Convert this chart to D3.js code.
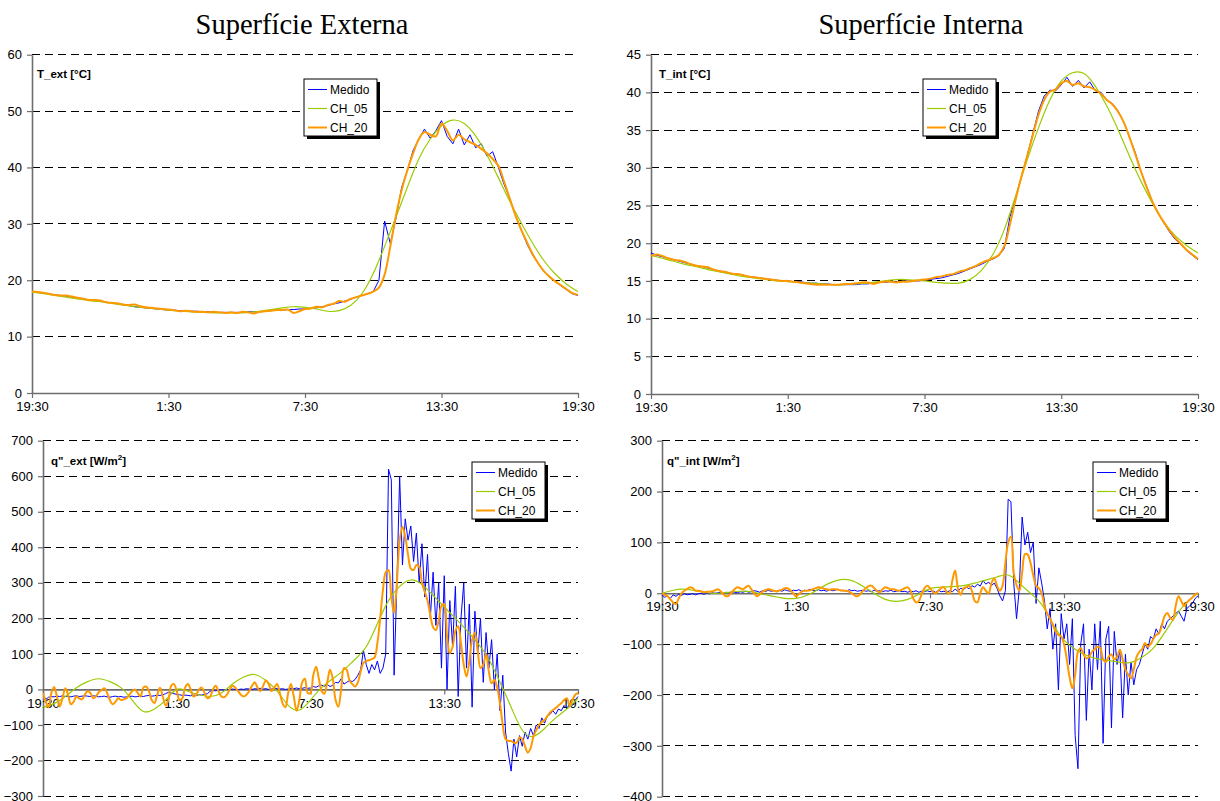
<!DOCTYPE html>
<html><head><meta charset="utf-8">
<script src="https://cdn.jsdelivr.net/npm/d3@7"></script>
<style>body{margin:0;background:#fff}svg{display:block}</style>
</head><body><svg id="c" width="1220" height="801"></svg>
<script>
// ---------- DATA ----------
const xTickLabels = ["19:30", "1:30", "7:30", "13:30", "19:30"];
const xTickHours = [0, 6, 12, 18, 24];
const seriesNames = ["Medido", "CH_05", "CH_20"];
const titles = ["Superfície Externa", "Superfície Interna"];

const tExtTicks = [0, 10, 20, 30, 40, 50, 60];
const tIntTicks = [0, 5, 10, 15, 20, 25, 30, 35, 40, 45];
const qExtTicks = [-300, -200, -100, 0, 100, 200, 300, 400, 500, 600, 700];
const qIntTicks = [-400, -300, -200, -100, 0, 100, 200, 300];

// Temperatures, 15-min steps (19:30 -> 19:30)
const tExtMedido = [
 18.0,17.9,17.7,17.6, 17.4,17.3,17.2,17.0, 16.9,16.7,16.5,16.4, 16.3,16.1,16.0,15.8,
 15.7,15.5,15.3,15.2, 15.1,15.0,14.9,14.8, 14.7,14.7,14.6,14.6, 14.5,14.5,14.4,14.4,
 14.3,14.3,14.3,14.3, 14.3,14.3,14.4,14.4, 14.4,14.5,14.6,14.7, 14.7,14.8,14.8,14.9,
 14.9,15.0,15.1,15.3, 15.5,15.8,16.0,16.3, 16.6,17.0,17.3,17.6, 18.0,20.0,30.5,26.5,
 31.0,36.5,39.5,43.0, 45.0,46.8,45.2,46.5, 48.3,45.5,44.2,46.8, 44.0,45.8,43.5,44.2,
 42.0,42.8,40.0,37.0, 34.5,31.5,29.0,26.5, 24.5,23.0,21.5,20.5, 19.8,19.0,18.3,17.6, 17.3];
const tExtCH20 = [
 18.0,17.9,17.8,17.6, 17.4,17.3,17.3,17.1, 16.9,16.7,16.5,16.5, 16.4,16.1,16.0,15.9,
 15.7,15.6,15.7,15.4, 15.2,15.1,15.0,14.9, 14.8,14.7,14.5,14.6, 14.5,14.4,14.4,14.3,
 14.4,14.3,14.2,14.3, 14.2,14.4,14.3,14.1, 14.4,14.5,14.6,14.7, 14.7,14.8,14.2,14.5,
 14.9,15.0,15.3,15.2, 15.6,15.8,16.3,16.2, 16.7,17.0,17.3,17.6, 18.0,18.7,21.0,26.0,
 31.5,36.0,39.5,42.5, 45.0,46.3,45.8,45.5, 47.8,46.5,44.8,45.8, 45.0,44.5,44.0,43.3,
 42.5,41.5,40.3,37.5, 34.5,31.5,29.0,26.8, 24.7,23.0,21.6,20.6, 19.8,19.1,18.4,17.7, 17.4];
// 30-min steps
const tExtCH05 = [
 17.9,17.6,17.3,17.0,16.7,16.4,16.2,15.9,15.6,15.3,15.1,14.9,14.7,14.5,14.4,14.3,
 14.2,14.2,14.2,14.3,14.5,14.8,15.1,15.3,15.2,14.9,14.5,14.6,15.5,17.6,21.2,26.0,
 31.2,36.5,41.5,45.0,47.4,48.4,47.8,45.6,42.2,38.2,34.0,30.2,26.6,23.5,21.1,19.3,18.0];

const tIntMedido = [
 18.7,18.4,18.2,18.0, 17.8,17.6,17.4,17.2, 17.0,16.9,16.7,16.5, 16.3,16.2,16.0,15.9,
 15.8,15.6,15.5,15.4, 15.3,15.2,15.1,15.0, 15.0,14.9,14.9,14.8, 14.7,14.7,14.6,14.6,
 14.5,14.5,14.5,14.5, 14.5,14.6,14.6,14.7, 14.8,14.8,14.9,14.9, 14.9,15.0,15.0,15.0,
 15.1,15.2,15.3,15.4, 15.6,15.8,16.0,16.3, 16.6,16.9,17.2,17.6, 17.9,18.3,19.3,23.5,
 26.0,28.8,31.5,34.5, 37.5,39.5,40.3,40.2, 41.0,42.0,40.8,41.6, 40.6,41.4,40.2,40.0,
 39.0,38.5,37.5,36.0, 34.0,32.0,29.5,27.5, 25.5,24.0,22.7,21.5, 20.5,19.8,19.0,18.4, 17.8];
const tIntCH20 = [
 18.3,18.5,18.3,18.0, 17.8,17.7,17.5,17.2, 17.0,16.9,16.8,16.5, 16.3,16.2,16.0,15.9,
 15.8,15.6,15.5,15.4, 15.3,15.2,15.1,15.0, 15.0,14.9,14.8,14.7, 14.6,14.5,14.5,14.5,
 14.5,14.5,14.6,14.6, 14.7,14.8,14.8,14.6, 14.8,14.9,14.9,14.8, 14.9,14.9,15.0,15.1,
 15.2,15.3,15.5,15.6, 15.8,15.9,16.2,16.4, 16.7,17.0,17.4,17.7, 18.0,18.4,19.6,22.5,
 25.8,28.8,31.5,34.3, 37.0,39.0,40.1,40.4, 41.2,41.5,41.0,41.2, 40.8,40.7,40.3,39.8,
 39.0,38.4,37.4,36.0, 34.0,31.8,29.5,27.4, 25.5,24.0,22.8,21.7, 20.7,19.9,19.1,18.5, 17.9];
const tIntCH05 = [
 18.4,18.0,17.6,17.2,16.9,16.5,16.2,15.9,15.6,15.4,15.2,15.0,14.9,14.8,14.7,14.6,
 14.5,14.5,14.6,14.7,14.9,15.1,15.2,15.1,15.0,14.8,14.7,14.7,15.2,16.4,18.5,21.8,
 26.3,31.0,35.3,39.0,41.5,42.6,42.5,40.8,38.2,35.0,31.5,28.2,25.3,22.8,21.0,19.7,18.7];

// Heat fluxes, 7.5-min steps
const qExtMedido = [
 -15,-28,-22,-20,-21,-19,-20,-18,  -20,-19,-21,-19,-18,-20,-19,-18,
 -19,-20,-18,-19,-21,-20,-19,-21,  -22,-20,-19,-21,-20,-22,-21,-20,
 -19,-21,-20,-19,-20,-18,-17,-19,  -18,-16,-17,-15,-12,-8,-10,-12,
 -14,-15,-17,-16,-17,-18,-16,-17,  -15,-16,-14,-12,-5,-3,-4,-2,
 -1,-2,0,-1,1,0,-1,1,  0,2,1,0,2,1,3,1,
 2,0,1,3,2,1,2,0,  1,3,2,4,2,3,5,3,
 4,8,6,10,12,9,14,8,  12,20,18,30,15,20,25,22,
 28,40,55,110,70,45,70,55,  80,45,60,100,620,590,40,300,
 600,350,480,420,460,360,440,300,  410,260,380,200,330,180,300,60,
 320,0,250,120,290,-20,200,300,  60,240,-50,220,100,200,20,160,
 60,140,0,100,-60,40,-120,-180,  -230,-140,-190,-130,-160,-120,-140,-110,
 -130,-100,-110,-80,-95,-75,-70,-60,  -70,-55,-60,-45,-55,-40,-45,-30, -20];
const qExtCH20 = [
 -10,-35,-50,-10,7,-20,-48,-25,  3,-15,-42,-35,-20,-25,-28,-15,
 -5,-10,-25,-20,-8,-2,3,-10,  -30,-42,-35,-25,-30,-28,-25,-15,
 -5,0,-10,-20,5,8,-5,-30,  -38,-15,5,-20,-45,-30,10,15,
 -5,-30,-25,5,15,0,-20,-15,  0,5,-10,-25,-20,0,10,-5,
 -20,-22,-15,0,10,5,-5,-15,  -20,-15,-5,10,20,5,-5,10,
 25,15,-5,5,15,-10,-40,-50,  -10,15,-20,-60,-30,20,30,-10,
 -10,40,64,30,-5,-12,20,55,  30,-30,-49,0,60,55,25,15,
 8,20,50,75,80,82,85,90,  130,200,280,330,336,260,215,300,
 420,458,430,380,340,336,350,345,  300,275,250,210,175,167,195,235,
 240,150,102,120,165,178,130,70,  36,80,140,159,110,60,70,100,
 50,17,27,5,-40,-100,-140,-145,  -145,-150,-150,-135,-140,-160,-178,-165,
 -133,-115,-100,-92,-86,-75,-65,-58,  -52,-45,-39,-30,-25,-45,-30,-15, -10];
const qExtCH05 = [
 -50,-40,-20,5,22,30,22,5,-30,-62,-55,-30,0,-5,-15,-20,
 -10,15,35,42,25,-5,-45,-58,-30,5,30,55,85,120,185,250,
 290,308,295,265,232,200,167,130,85,20,-50,-115,-132,-110,-80,-55,-25];

const qIntMedido = [
 -3,-8,-5,-10,-3,-6,-2,-4,  -1,-3,-2,-1,-3,-1,0,-2,
 0,-1,1,0,1,2,0,2,  1,3,2,1,3,2,4,2,
 3,5,4,2,5,3,6,4,  5,3,6,4,7,5,4,6,
 5,7,4,6,5,8,6,5,  7,5,6,4,7,5,6,8,
 5,6,4,7,5,6,4,5,  6,4,5,3,6,4,5,3,
 5,4,6,3,4,5,3,4,  2,4,3,5,2,4,3,5,
 3,5,2,6,3,4,2,5,  3,8,4,10,7,12,9,15,
 12,18,14,25,18,22,15,20,  10,-5,-15,5,185,180,20,-50,
 10,150,95,120,80,100,-20,50,  20,-15,-70,-30,-110,-60,-190,-40,
 -90,-60,-140,-50,-280,-345,-100,-60,  -250,-110,-190,-60,-150,-55,-295,-90,
 -65,-265,-75,-140,-110,-245,-120,-200,  -135,-180,-150,-140,-120,-100,-110,-85,
 -90,-70,-80,-60,-70,-55,-50,-45,  -40,-35,-45,-55,-30,-25,-20,-10, -5];
const qIntCH20 = [
 0,-3,-6,-12,-18,-21,-10,0,  5,8,12,10,5,5,4,2,
 3,3,4,6,8,4,-2,-6,  -4,2,8,12,10,8,12,15,
 8,0,-6,-2,3,6,8,7,  5,4,5,7,10,10,6,0,
 -6,-2,3,5,5,6,8,10,  12,11,9,8,7,8,8,7,
 6,5,5,3,0,-4,-6,-2,  5,10,14,15,10,5,2,8,
 12,10,8,8,6,5,7,10,  12,5,-10,-18,-15,-2,10,15,
 10,3,0,5,10,12,2,0,  25,45,10,-3,10,12,15,5,
 -15,-18,0,12,5,0,20,29,  15,5,15,60,100,111,40,16,
 5,40,77,76,60,35,15,10,  0,-25,-40,-50,-62,-75,-82,-85,
 -100,-130,-165,-187,-160,-115,-108,-120,  -128,-125,-115,-110,-105,-108,-130,-135,
 -125,-120,-130,-125,-111,-130,-150,-160,  -167,-150,-125,-115,-110,-98,-105,-100,
 -90,-82,-79,-65,-45,-39,-48,-52,  -25,-6,-15,-25,-18,-13,-8,-2, 0];
const qIntCH05 = [
 0,6,8,5,1,0,2,4,3,-2,-6,-10,-10,-4,8,20,
 27,25,14,0,-12,-16,-12,-2,9,12,13,15,20,26,32,36,
 20,0,-22,-60,-92,-110,-122,-129,-132,-136,-136,-126,-108,-78,-45,-18,0];

// ---------- STYLE / LAYOUT ----------
const colors = {Medido: "#0000ff", CH_05: "#99cc00", CH_20: "#ff9900"};
const widths = {Medido: 1, CH_05: 1.2, CH_20: 2};
const FONT = "'Liberation Sans', Arial, sans-serif";

const svg = d3.select("#c");

[[titles[0], 302], [titles[1], 921]].forEach(([t, cx]) => {
  svg.append("text").attr("x", cx).attr("y", 34).attr("text-anchor", "middle")
    .style("font-family", "'Liberation Serif','Times New Roman',serif").style("font-size", "28.5px")
    .text(t);
});

const panels = [
  {box: [32, 578, 54.7, 393], domain: [0, 60], ticks: tExtTicks,
   data: {Medido: tExtMedido, CH_05: tExtCH05, CH_20: tExtCH20},
   label: ["T_ext [°C]"], labelPos: [37, 78], legend: [304, 79]},
  {box: [651, 1198, 54.7, 394], domain: [0, 45], ticks: tIntTicks,
   data: {Medido: tIntMedido, CH_05: tIntCH05, CH_20: tIntCH20},
   label: ["T_int [°C]"], labelPos: [659, 78], legend: [923, 79]},
  {box: [43, 578, 440.7, 796], domain: [-300, 700], ticks: qExtTicks,
   data: {Medido: qExtMedido, CH_05: qExtCH05, CH_20: qExtCH20},
   label: ["q\"_ext [W/m", "2", "]"], labelPos: [51, 465], legend: [472, 462]},
  {box: [662, 1198, 440.7, 796.7], domain: [-400, 300], ticks: qIntTicks,
   data: {Medido: qIntMedido, CH_05: qIntCH05, CH_20: qIntCH20},
   label: ["q\"_int [W/m", "2", "]"], labelPos: [667, 465], legend: [1093, 462]}
];

panels.forEach((p, pi) => {
  const [x0, x1, y0, y1] = p.box;
  const x = d3.scaleLinear().domain([0, 24]).range([x0, x1]);
  const y = d3.scaleLinear().domain(p.domain).range([y1, y0]);
  const g = svg.append("g");

  // grid (every tick except the zero line, which is the x axis)
  g.append("g").selectAll("line").data(p.ticks.filter(t => t !== 0))
    .join("line")
    .attr("x1", x0).attr("x2", x1)
    .attr("y1", d => y(d)).attr("y2", d => y(d))
    .attr("stroke", "#000").attr("stroke-width", 1).attr("stroke-dasharray", "8,5")
    .attr("shape-rendering", "crispEdges");

  const ya = g.append("g").attr("transform", `translate(${x0},0)`)
    .call(d3.axisLeft(y).tickValues(p.ticks).tickSize(5).tickSizeOuter(0).tickPadding(5));
  const xa = g.append("g").attr("transform", `translate(0,${y(0)})`)
    .call(d3.axisBottom(x).tickValues(xTickHours).tickFormat((d, i) => xTickLabels[i])
      .tickSize(5).tickSizeOuter(0).tickPadding(4));
  [ya, xa].forEach(a => {
    a.selectAll("path").attr("stroke", "#6e6e6e").attr("stroke-width", 1.6);
    a.selectAll("line").attr("stroke", "#6e6e6e").attr("stroke-width", 1.2);
    a.selectAll("text").style("font-family", FONT).style("font-size", "13px").attr("fill", "#000");
  });

  const cid = "clip" + pi;
  svg.append("clipPath").attr("id", cid).append("rect")
    .attr("x", x0).attr("y", y0 - 2).attr("width", x1 - x0 + 2).attr("height", y1 - y0 + 4);

  const lines = g.append("g").attr("clip-path", `url(#${cid})`);
  seriesNames.forEach(name => {
    const arr = p.data[name];
    const step = 24 / (arr.length - 1);
    const curve = name === "Medido" ? d3.curveLinear : (name === "CH_05" ? d3.curveNatural : d3.curveCatmullRom);
    const line = d3.line().x((d, i) => x(i * step)).y(d => y(d)).curve(curve);
    lines.append("path").attr("d", line(arr)).attr("fill", "none")
      .attr("stroke", colors[name]).attr("stroke-width", widths[name])
      .attr("stroke-linejoin", "round");
  });

  const lt = g.append("text").attr("x", p.labelPos[0]).attr("y", p.labelPos[1])
    .style("font-family", FONT).style("font-size", "11.5px").style("font-weight", "bold");
  lt.append("tspan").text(p.label[0]);
  if (p.label.length > 1) {
    lt.append("tspan").attr("dy", -5).style("font-size", "8px").text(p.label[1]);
    lt.append("tspan").attr("dy", 5).text(p.label[2]);
  }

  const [lx, ly] = p.legend;
  const lw = 73, lh = 57;
  const lg = g.append("g");
  lg.append("rect").attr("x", lx + 3).attr("y", ly + 3).attr("width", lw).attr("height", lh).attr("fill", "#000");
  lg.append("rect").attr("x", lx).attr("y", ly).attr("width", lw).attr("height", lh)
    .attr("fill", "#fff").attr("stroke", "#000").attr("stroke-width", 1);
  seriesNames.forEach((name, i) => {
    const yy = ly + 10.5 + i * 19;
    lg.append("line").attr("x1", lx + 4).attr("x2", lx + 23).attr("y1", yy).attr("y2", yy)
      .attr("stroke", colors[name]).attr("stroke-width", widths[name]);
    lg.append("text").attr("x", lx + 26).attr("y", yy + 4.3)
      .style("font-family", FONT).style("font-size", "12px").text(name);
  });
});
</script></body></html>
